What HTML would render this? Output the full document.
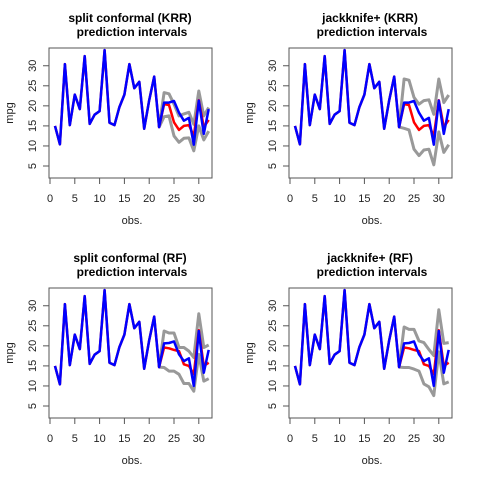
<!DOCTYPE html>
<html><head><meta charset="utf-8"><style>
html,body{margin:0;padding:0;background:#fff;}
svg{display:block;font-family:"Liberation Sans",sans-serif;}
</style></head><body>
<svg id="c" width="480" height="480"></svg>
<script>
const obsX = [1,2,3,4,5,6,7,8,9,10,11,12,13,14,15,16,17,18,19,20,21,22,23,24,25,26,27,28,29,30,31,32];
const trainY = [15,10.4,30.4,15.2,22.8,19.2,32.4,15.5,17.8,18.7,33.9,15.8,15.2,19.7,22.8,30.4,24.4,26,14.3,21.4,27.3,14.7];
const testX = [22,23,24,25,26,27,28,29,30,31,32];
const truthKRR = [14.7,20.8,20.8,21.2,18.3,16.3,17,10.3,21.3,13,19.2];
const truthRF = [14.7,20.6,20.7,21.1,17.9,16.2,16.9,10,23.7,13.3,19];
const predKRR = [14.7,20.4,20.2,15.9,14,15,15.2,12.5,21.4,14.7,16.5];
const predRF = [14.7,19.6,19.4,19,18.7,15.4,15,12.9,23.9,15,15.8];
const splitKRRUp = [14.7,23.3,23,20.4,17.5,18,18.4,15.4,23.7,17.5,19.6];
const splitKRRLo = [14.7,17.3,17.5,12.5,10.9,11.9,12,8.8,15,11.5,13.7];
const jackKRRUp = [14.7,26.7,26.4,22.1,20.4,21.3,21.5,17.9,26.7,20.8,22.7];
const jackKRRLo = [14.7,14.4,14,9.2,7.6,9,9.2,5.3,13.5,8.4,10.3];
const splitRFUp = [14.7,23.7,23.2,23.2,19.6,19.6,18.7,17.1,28,19.6,20.2];
const splitRFLo = [14.7,14.6,13.7,13.7,12.9,10.6,10.6,8.7,17.9,11.2,11.8];
const jackRFUp = [14.7,24.7,24.1,24.1,21.2,20.8,19.1,17.6,29,20.6,20.8];
const jackRFLo = [14.7,14.6,14.6,14.2,13.7,10.5,9.8,7.6,18.5,10.5,11];
const xTicks = [0,5,10,15,20,25,30];
const yTicks = [5,10,15,20,25,30];

const panels = [
 {name:'split-krr', t:'split conformal (KRR)', ox:0, oy:0, up:splitKRRUp, lo:splitKRRLo, pred:predKRR, truth:truthKRR},
 {name:'jackknife-krr', t:'jackknife+ (KRR)', ox:240, oy:0, up:jackKRRUp, lo:jackKRRLo, pred:predKRR, truth:truthKRR},
 {name:'split-rf', t:'split conformal (RF)', ox:0, oy:240, up:splitRFUp, lo:splitRFLo, pred:predRF, truth:truthRF},
 {name:'jackknife-rf', t:'jackknife+ (RF)', ox:240, oy:240, up:jackRFUp, lo:jackRFLo, pred:predRF, truth:truthRF}
];
const NS='http://www.w3.org/2000/svg';
const svg=document.getElementById('c');
function mk(tag,attrs,parent,text){const e=document.createElementNS(NS,tag);for(const k in attrs)e.setAttribute(k,attrs[k]);if(text!==undefined)e.textContent=text;parent.appendChild(e);return e;}
panels.forEach(p=>{
  const g=mk('g',{},svg);
  
  
  const sx=v=>p.ox+50+(v)*4.96;
  const sy=v=>p.oy+166-(v-5)*4.01;
  const path=(xs,ys)=>xs.map((x,i)=>(i?'L':'M')+sx(x).toFixed(1)+' '+sy(ys[i]).toFixed(1)).join(' ');
  const allX=obsX.slice(0,trainY.length).concat(testX.slice(1));
  const allY=trainY.concat(p.truth.slice(1));
  const predAllY=trainY.concat(p.pred.slice(1));
  const t1=mk('text',{x:p.ox+130,y:p.oy+22,'text-anchor':'middle','font-size':12,'font-weight':'bold'},g,p.t);
  
  
  const t2=mk('text',{x:p.ox+132,y:p.oy+36,'text-anchor':'middle','font-size':12,'font-weight':'bold'},g,'prediction intervals');
  
  
  const gu=mk('path',{d:path(testX,p.up),fill:'none',stroke:'#999',"stroke-width":3,"stroke-linejoin":'round'},g);
  
  
  const gl=mk('path',{d:path(testX,p.lo),fill:'none',stroke:'#999',"stroke-width":3,"stroke-linejoin":'round'},g);
  
  
  const rp=mk('path',{d:path(allX,predAllY),fill:'none',stroke:'#f00',"stroke-width":2.5,"stroke-linejoin":'round'},g);
  
  
  const bl=mk('path',{d:path(allX,allY),fill:'none',stroke:'#00f',"stroke-width":2.5,"stroke-linejoin":'round'},g);
  
  
  const box=mk('rect',{x:p.ox+49,y:p.oy+48,width:163,height:130,fill:'none',stroke:'#555','stroke-width':1},g);
  
  
  xTicks.forEach(v=>{
    mk('line',{x1:sx(v),x2:sx(v),y1:p.oy+178,y2:p.oy+184,stroke:'#555'},g);
    const tl=mk('text',{x:sx(v),y:p.oy+202,'text-anchor':'middle','font-size':11,fill:'#222'},g,String(v));
    
    
  });
  mk('line',{x1:sx(0),x2:sx(30),y1:p.oy+178,y2:p.oy+178,stroke:'#555'},g);
  yTicks.forEach(v=>{
    mk('line',{x1:p.ox+43,x2:p.ox+49,y1:sy(v),y2:sy(v),stroke:'#555'},g);
    const tl=mk('text',{x:p.ox+36,y:sy(v),'text-anchor':'middle','font-size':11,fill:'#222',transform:`rotate(-90 ${p.ox+36} ${sy(v)})`},g,String(v));
    
    
  });
  mk('line',{x1:p.ox+49,x2:p.ox+49,y1:sy(5),y2:sy(30),stroke:'#555'},g);
  const xl=mk('text',{x:p.ox+132,y:p.oy+224,'text-anchor':'middle','font-size':11,fill:'#222'},g,'obs.');
  
  
  const yl=mk('text',{x:p.ox+13,y:p.oy+113,'text-anchor':'middle','font-size':11,fill:'#222',transform:`rotate(-90 ${p.ox+13} ${p.oy+113})`},g,'mpg');
  
  
});
</script>
</body></html>
